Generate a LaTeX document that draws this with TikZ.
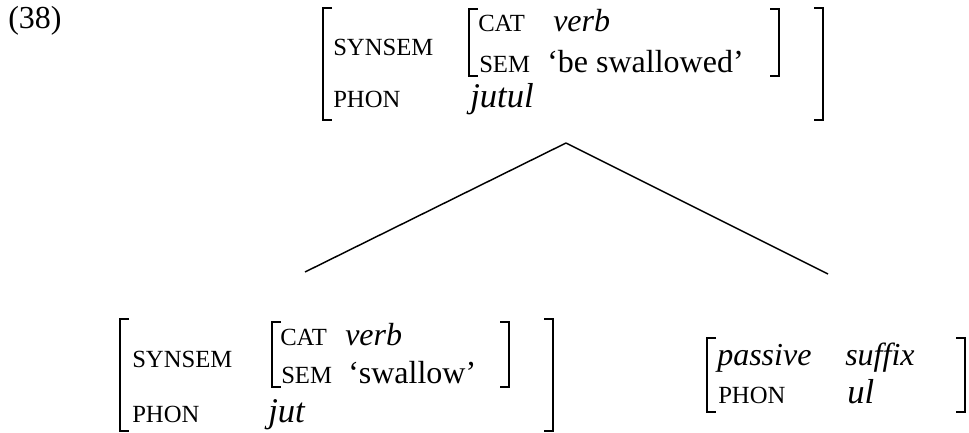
\documentclass[tikz,border=0pt]{standalone}
\usepackage{fontspec}
\setmainfont{Liberation Serif}
\usepackage{tikz}
\usetikzlibrary{positioning,calc}

\tikzset{
    feat/.style={anchor=base west, inner sep=0pt, font=\fontsize{18.5}{20}\selectfont},
    val/.style={anchor=base west, inner sep=0pt, font=\fontsize{24}{26}\selectfont},
    ival/.style={anchor=base west, inner sep=0pt, font=\fontsize{24}{26}\selectfont\itshape},
    phonval/.style={anchor=base west, inner sep=0pt, font=\fontsize{26}{28}\selectfont\itshape},
    brak/.style={line width=1.3pt},
    branch/.style={line width=1.1pt}
}
\newcommand{\avmL}[3]{\draw[brak] (#1+9,#2) -- (#1,#2) -- (#1,#3) -- (#1+9,#3);}
\newcommand{\avmR}[3]{\draw[brak] (#1-9,#2) -- (#1,#2) -- (#1,#3) -- (#1-9,#3);}

\begin{document}
\begin{tikzpicture}[x=0.75pt, y=-0.75pt]
    \useasboundingbox (0,0) rectangle (969,432);

    \node[val] (ex) at (8,28) {(38)};

    % Mother
    \avmL{323}{8}{120} % outer
    \avmR{823}{8}{120}
    \avmL{469}{9}{76} % synsem
    \avmR{779}{9}{76}
    \node[feat] (top-synsem) at (333,55) {SYNSEM};
    \node[feat] (top-phon) at (333,107) {PHON};
    \node[feat] (top-cat) at (478,31) {CAT};
    \node[feat] (top-sem) at (479,72) {SEM};
    \node[ival] (top-catval) at (553,31) {verb};
    \node[val] (top-semval) at (547,72) {‘be swallowed’};
    \node[phonval] (top-phonval) at (470,107) {jutul};

    % Branches
    \coordinate (apex) at (566,143);
    \coordinate (stem-end) at (305,272);
    \coordinate (suffix-end) at (828,274);
    \draw[branch] (apex) -- (stem-end);
    \draw[branch] (apex) -- (suffix-end);

    % Stem
    \avmL{120}{319}{431} % outer
    \avmR{553}{319}{431}
    \avmL{272}{322}{387} % synsem
    \avmR{509}{322}{387}
    \node[feat] (stem-synsem) at (132,367) {SYNSEM};
    \node[feat] (stem-phon) at (132,422) {PHON};
    \node[feat] (stem-cat) at (280,345) {CAT};
    \node[feat] (stem-sem) at (281,383) {SEM};
    \node[ival] (stem-catval) at (345,345) {verb};
    \node[val] (stem-semval) at (348,383) {‘swallow’};
    \node[phonval] (stem-phonval) at (268,422) {jut};

    % Suffix
    \avmL{707}{338}{412}
    \avmR{965}{338}{412}
    \node[ival] (suf-passive) at (717,365) {passive};
    \node[ival] (suf-suffix) at (845,365) {suffix};
    \node[feat] (suf-phon) at (718,403) {PHON};
    \node[phonval] (suf-phonval) at (847,403) {ul};
\end{tikzpicture}
\end{document}
